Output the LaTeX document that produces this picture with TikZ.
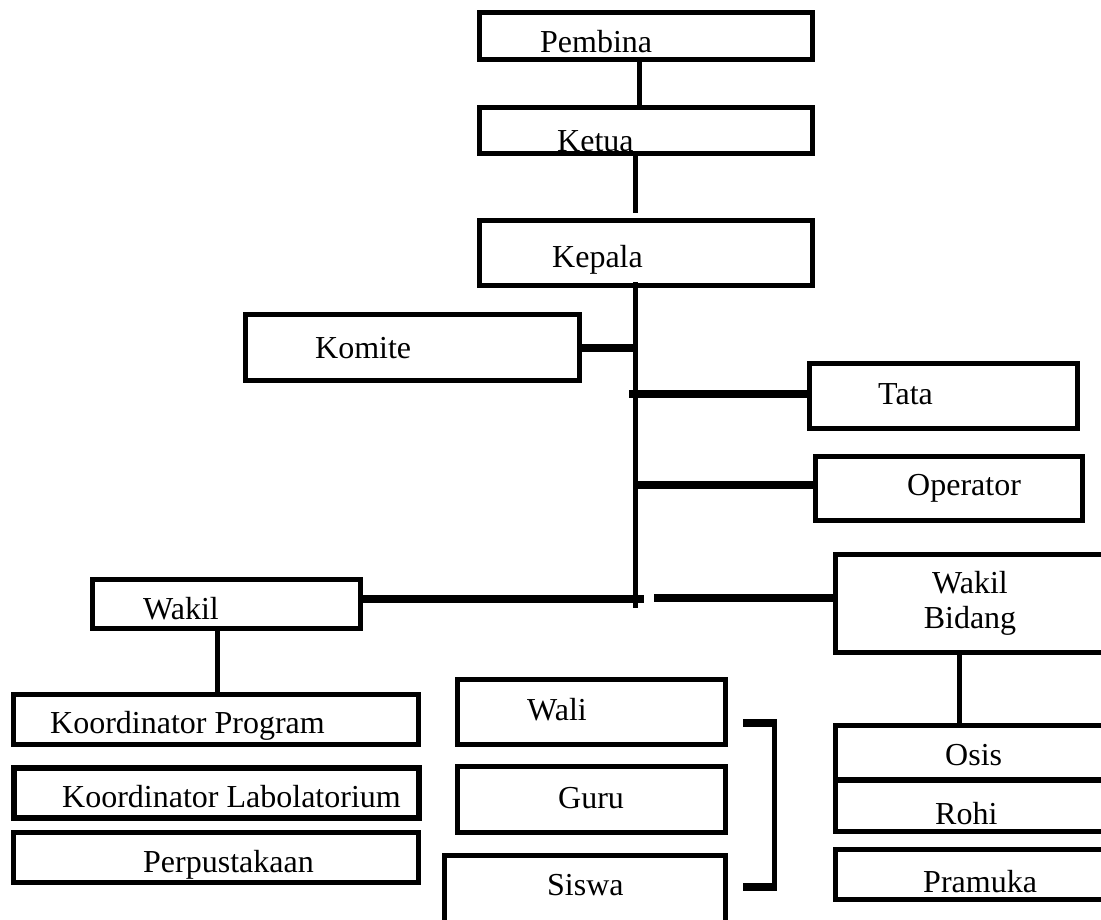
\documentclass[tikz,border=0pt]{standalone}
\usepackage{fontspec}
\setmainfont{Liberation Serif}
\usepackage{tikz}
\usetikzlibrary{calc}

\begin{document}
\begin{tikzpicture}[x=1pt,y=-1pt,
      box/.style={
        rectangle,
        draw,
        line width=5pt,
        inner sep=0pt
      },
      txt/.style={
        anchor=base west,
        inner sep=0pt,
        font=\fontsize{32}{35}\selectfont
      },
      conn/.style={line width=5pt},
      thickconn/.style={line width=8pt}
    ]
    \clip (0,0) rectangle (1101,919);
    \fill[white] (0,0) rectangle (1101,919);

    \node[box,minimum width=333pt,minimum height=47pt] (pembina) at (646,36) {};
    \node[box,minimum width=333pt,minimum height=46pt] (ketua) at (646,130.5) {};
    \node[box,minimum width=333pt,minimum height=65pt] (kepala) at (646,253) {};
    \node[box,minimum width=334pt,minimum height=66pt] (komite) at (412.5,347.5) {};
    \node[box,minimum width=268pt,minimum height=65pt] (tata) at (943.5,396) {};
    \node[box,minimum width=267pt,minimum height=64pt] (operator) at (949,488.5) {};
    \node[box,minimum width=302pt,minimum height=98pt] (wakilb) at (986.5,603.5) {};
    \node[box,minimum width=268pt,minimum height=49pt] (wakil) at (226.5,604) {};
    \node[box,minimum width=405pt,minimum height=50pt] (kprog) at (216,719.5) {};
    \node[box,minimum width=405pt,minimum height=50pt,line width=6pt] (klab) at (216,792.5) {};
    \node[box,minimum width=405pt,minimum height=50pt] (perpus) at (216,857.5) {};
    \node[box,minimum width=268pt,minimum height=65pt] (wali) at (591.5,712) {};
    \node[box,minimum width=268pt,minimum height=66pt] (guru) at (591.5,799.5) {};
    \node[box,minimum width=281pt,minimum height=77pt] (siswa) at (585,894) {};
    \node[box,minimum width=302pt,minimum height=54pt] (osis) at (986.5,752.5) {};
    \node[box,minimum width=302pt,minimum height=51pt] (rohi) at (986.5,806) {};
    \node[box,minimum width=302pt,minimum height=50pt] (pramuka) at (986.5,874.5) {};

    \node[txt] (pembinatxt) at (540,52) {Pembina};
    \node[txt] (ketuatxt) at (557,151) {Ketua};
    \node[txt] (kepalatxt) at (552,267) {Kepala};
    \node[txt] (komitetxt) at (315,358) {Komite};
    \node[txt] (tatatxt) at (878,404) {Tata};
    \node[txt] (operatortxt) at (907,495) {Operator};
    \node[txt,anchor=center,align=center] (wakilbtxt) at (970,603.5) {Wakil\\Bidang};
    \node[txt] (wakiltxt) at (143,619) {Wakil};
    \node[txt] (kprogtxt) at (50,733) {Koordinator Program};
    \node[txt] (klabtxt) at (62,807) {Koordinator Labolatorium};
    \node[txt] (perpustxt) at (143,872) {Perpustakaan};
    \node[txt] (walitxt) at (527,720) {Wali};
    \node[txt] (gurutxt) at (558,808) {Guru};
    \node[txt] (siswatxt) at (547,895) {Siswa};
    \node[txt] (osistxt) at (945,765) {Osis};
    \node[txt] (rohitxt) at (935,824) {Rohi};
    \node[txt] (pramukatxt) at (923,892) {Pramuka};

    \coordinate (trunkend) at ($(kepala.south)+(-11,320)$);
    \coordinate (brtop) at ($(wali.east)+(46.5,11)$);
    \coordinate (brbot) at ($(siswa.east)+(46.5,-7)$);

    \draw[conn] ([xshift=-7pt]pembina.south) -- ([xshift=-7pt]ketua.north);
    \draw[conn] ([xshift=-11pt]ketua.south) -- ([xshift=-11pt,yshift=5pt]kepala.north);
    \draw[conn] ([xshift=-11pt,yshift=6pt]kepala.south) -- (trunkend);
    \draw[thickconn] (komite.east) -- (komite.east -| trunkend);
    \draw[thickconn] ($([yshift=2pt]tata.west -| trunkend)+(-6,0)$) -- ([yshift=2pt]tata.west);
    \draw[thickconn] ([yshift=4pt]operator.west -| trunkend) -- ([yshift=4pt]operator.west);
    \draw[thickconn] ([yshift=5pt]wakil.east) -- ($([yshift=5pt]wakil.east -| trunkend)+(9,0)$);
    \draw[thickconn] ($([yshift=6pt]wakilb.west -| trunkend)+(19,0)$) -- ([yshift=6pt]wakilb.west);
    \draw[conn] ([xshift=-9pt]wakil.south) -- ([xshift=-9pt]wakil.south |- kprog.north);
    \draw[conn] ([xshift=-27pt]wakilb.south) -- ([xshift=-27pt]wakilb.south |- osis.north);
    \draw[thickconn] (brtop) -- ++(-32,0);
    \draw[conn] ([yshift=4pt]brtop) -- ([yshift=-4pt]brbot);
    \draw[thickconn] (brbot) -- ++(-32,0);
  \end{tikzpicture}
\end{document}
